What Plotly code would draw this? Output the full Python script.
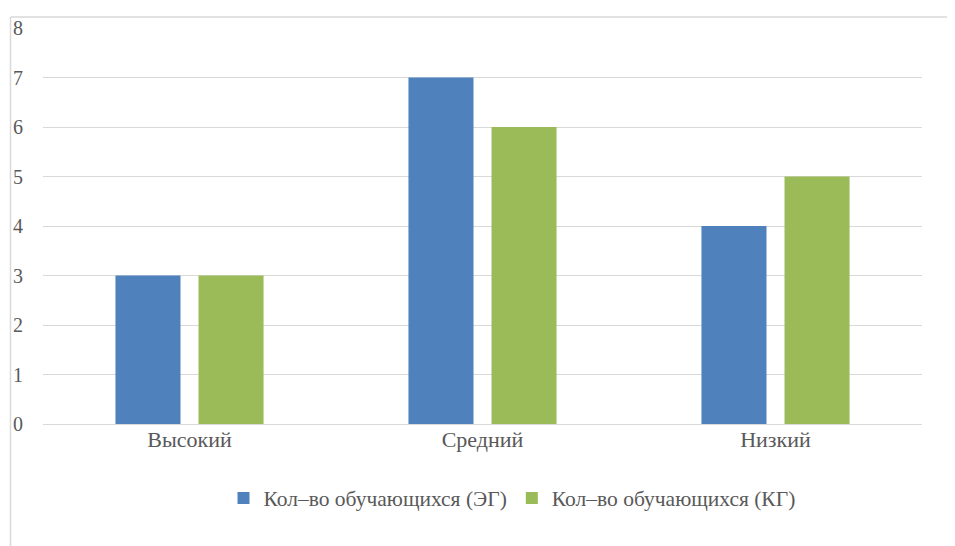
import plotly.graph_objects as go

categories = ["Высокий", "Средний", "Низкий"]
eg_values = [3, 7, 4]
kg_values = [3, 6, 5]
series_names = ["Кол–во обучающихся (ЭГ)", "Кол–во обучающихся (КГ)"]
y_ticks = [0, 1, 2, 3, 4, 5, 6, 7, 8]

# page body has an 8px margin, so the figure is offset by 8px
OFF = 8
W, H = 955 - OFF, 546 - OFF
ml, mr, mt, mb = 43 - OFF, 33, 27.5 - OFF, 122
pw = W - ml - mr
ph = H - mt - mb

def px_x(p):
    # p in window pixels
    return (p - OFF - ml) / pw

def px_y(p):
    return (H - mb - (p - OFF)) / ph

fig = go.Figure()
fig.add_trace(go.Bar(x=categories, y=eg_values, name=series_names[0],
                     marker=dict(color="#4F81BD", line=dict(width=0))))
fig.add_trace(go.Bar(x=categories, y=kg_values, name=series_names[1],
                     marker=dict(color="#9BBB59", line=dict(width=0))))

font_family = "Times New Roman, Liberation Serif, DejaVu Serif, serif"
gray = "#595959"

fig.update_layout(
    width=W, height=H,
    margin=dict(l=ml, r=mr, t=mt, b=mb, pad=0, autoexpand=False),
    paper_bgcolor="white", plot_bgcolor="white",
    barmode="group", bargap=0.433, bargroupgap=0.217,
    font=dict(family=font_family, color=gray, size=20),
    showlegend=True,
    legend=dict(orientation="h", x=px_x(512), y=px_y(498), xanchor="center", yanchor="middle",
                font=dict(family=font_family, size=21.5, color=gray), itemwidth=30,
                traceorder="normal"),
    xaxis=dict(showgrid=False, showline=False, zeroline=False, ticks="", automargin=False,
               tickfont=dict(family=font_family, size=22, color=gray)),
    yaxis=dict(range=[0, 8], tickvals=y_ticks, showgrid=True, gridcolor="#D9D9D9", gridwidth=1,
               zeroline=True, zerolinecolor="#D9D9D9", zerolinewidth=1, showline=False,
               ticks="", ticklabelstandoff=19, automargin=False,
               tickfont=dict(family=font_family, size=20, color=gray)),
    shapes=[
        dict(type="line", xref="paper", yref="paper", x0=px_x(10.5), x1=px_x(970), y0=px_y(16.5), y1=px_y(16.5),
             line=dict(color="#D9D9D9", width=1.5)),
        dict(type="line", xref="paper", yref="paper", x0=px_x(10.5), x1=px_x(10.5), y0=px_y(16.5), y1=px_y(570),
             line=dict(color="#D9D9D9", width=1.5)),
    ],
)

fig.write_html("out.html")
